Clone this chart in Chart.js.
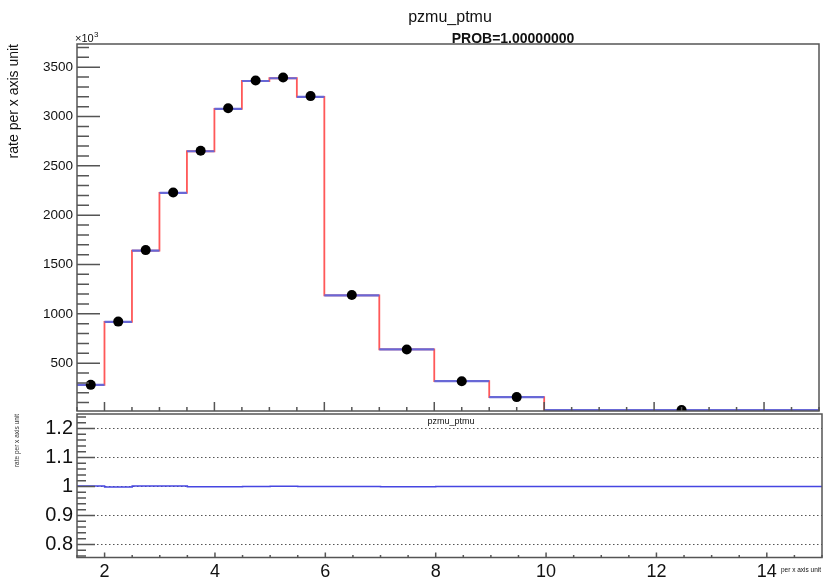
<!DOCTYPE html>
<html>
<head>
<meta charset="utf-8">
<script src="https://cdn.jsdelivr.net/npm/chart.js@4.4.1/dist/chart.umd.min.js"></script>
<style>
  html, body { margin: 0; padding: 0; background: #fff; width: 824px; height: 577px; overflow: hidden; }
  canvas { position: absolute; left: 0; }
  #main { top: 0; }
  #ratio { top: 400px; }
</style>
</head>
<body>
<canvas id="main" width="824" height="416"></canvas>
<canvas id="ratio" width="824" height="190"></canvas>
<script>
// bin edges of the pzmu_ptmu histogram
const binEdges = [1.5, 2, 2.5, 3, 3.5, 4, 4.5, 5, 5.5, 6, 7, 8, 9, 10, 15];
// expected rate (red/blue histogram), x10^3
const histVals = [280, 918, 1640, 2225, 2648, 3078, 3360, 3388, 3200, 1188, 639, 317, 156, 25];
// measured points
const dataVals = [280, 921, 1646, 2230, 2653, 3083, 3365, 3395, 3207, 1190, 639, 317, 156, 25];
// ratio panel
const ratioVals = [1.002, 0.998, 1.002, 1.002, 0.999, 0.999, 1.0, 1.001, 1.0, 1.0, 0.999, 1.0, 1.0, 1.0];

const yTicks = [500, 1000, 1500, 2000, 2500, 3000, 3500];
const ratioTicks = [0.8, 0.9, 1, 1.1, 1.2];
const xTicks = [2, 4, 6, 8, 10, 12, 14];

const FONT = "'Liberation Sans', Arial, Helvetica, sans-serif";
const RED = 'rgb(255,88,88)';
const BLUE = 'rgb(104,104,214)';

// red outline: stepped through all bin edges
const redStep = binEdges.slice(0, -1).map((e, i) => ({ x: e, y: histVals[i] }));
redStep.push({ x: binEdges[binEdges.length - 1], y: histVals[histVals.length - 1] });

// blue: horizontal bin tops only
const blueTops = [];
histVals.forEach((v, i) => {
  blueTops.push({ x: binEdges[i], y: v }, { x: binEdges[i + 1], y: v }, { x: binEdges[i + 1], y: null });
});

const dataPts = dataVals.map((v, i) => ({ x: (binEdges[i] + binEdges[i + 1]) / 2, y: v }));

const ratioStep = binEdges.slice(0, -1).map((e, i) => ({ x: e, y: ratioVals[i] }));
ratioStep.push({ x: binEdges[binEdges.length - 1], y: ratioVals[ratioVals.length - 1] });

// ROOT style frame, inside ticks and loose text
const rootFrame = {
  id: 'rootFrame',
  afterDraw(chart, args, o) {
    const { ctx, chartArea: a, scales } = chart;
    const x = scales.x, y = scales.y;
    ctx.save();
    ctx.strokeStyle = '#555';
    ctx.lineWidth = 1.5;
    ctx.strokeRect(a.left, a.top, a.right - a.left, a.bottom - a.top);

    const drawTicks = (scale, t, horiz) => {
      const i0 = Math.ceil(scale.min / t.minor - 1e-9), i1 = Math.floor(scale.max / t.minor + 1e-9);
      ctx.beginPath();
      for (let i = i0; i <= i1; i++) {
        const v = i * t.minor;
        const r = v / t.major;
        const len = Math.abs(r - Math.round(r)) < 1e-6 ? t.majorLen : t.minorLen;
        const p = scale.getPixelForValue(v);
        if (horiz) { ctx.moveTo(p, a.bottom); ctx.lineTo(p, a.bottom - len); }
        else { ctx.moveTo(a.left, p); ctx.lineTo(a.left + len, p); }
      }
      ctx.stroke();
    };
    drawTicks(y, o.yt, false);
    drawTicks(x, o.xt, true);

    ctx.fillStyle = '#111';
    (o.texts || []).forEach(t => {
      ctx.font = t.font;
      ctx.textAlign = t.align || 'left';
      ctx.textBaseline = 'alphabetic';
      ctx.fillText(t.text, t.x, t.y);
    });
    ctx.restore();
  }
};

const fixedTicks = vals => scale => { scale.ticks = vals.map(v => ({ value: v })); };
// fixed y axis width, no label overhang padding
const fixY = s => { s.width = 77; s.paddingTop = 0; s.paddingBottom = 0; };

// move the plot frame to the wanted top/bottom pixel rows
function pinArea(chart, top, bottom) {
  const a = chart.chartArea, p = chart.options.layout.padding;
  p.top += top - a.top;
  p.bottom += a.bottom - bottom;
  chart.update();
}

const mainChart = new Chart(document.getElementById('main'), {
  type: 'line',
  data: {
    // first dataset is painted on top
    datasets: [
      { data: dataPts, showLine: false, pointRadius: 5, pointBackgroundColor: '#000', pointBorderColor: '#000', pointBorderWidth: 0, clip: 0 },
      { data: blueTops, spanGaps: false, borderColor: BLUE, borderWidth: 2.2, pointRadius: 0, fill: false },
      { data: redStep, stepped: 'before', borderColor: RED, borderWidth: 1.8, pointRadius: 0, fill: false }
    ]
  },
  options: {
    responsive: false,
    animation: false,
    events: [],
    layout: { padding: { top: 44, left: 0, right: 2, bottom: 2 } },
    plugins: {
      legend: { display: false },
      tooltip: { enabled: false },
      rootFrame: {
        yt: { major: 500, minor: 100, majorLen: 23, minorLen: 12 },
        xt: { major: 2, minor: 0.5, majorLen: 9, minorLen: 4 },
        texts: [
          { text: 'pzmu_ptmu', x: 450, y: 22, font: '16px ' + FONT, align: 'center' },
          { text: 'PROB=1.00000000', x: 513, y: 43, font: 'bold 14px ' + FONT, align: 'center' },
          { text: '\u00d710', x: 75, y: 42, font: '11px ' + FONT },
          { text: '3', x: 94, y: 37, font: '8px ' + FONT }
        ]
      }
    },
    scales: {
      x: { type: 'linear', min: 1.5, max: 15, display: false },
      y: {
        type: 'linear', min: 15, max: 3735,
        afterBuildTicks: fixedTicks(yTicks),
        afterFit: fixY,
        grid: { display: false, drawTicks: false },
        border: { display: false },
        ticks: { padding: 4, color: '#111', font: { family: FONT, size: 13.5 }, callback: v => String(v) },
        title: { display: true, text: 'rate per x axis unit', align: 'end', color: '#111',
                 font: { family: FONT, size: 14 }, padding: { top: 5.6, bottom: 0 } }
      }
    }
  },
  plugins: [rootFrame]
});
pinArea(mainChart, 44, 414);

const ratioChart = new Chart(document.getElementById('ratio'), {
  type: 'line',
  data: {
    datasets: [
      { data: ratioStep, stepped: 'before', borderColor: 'rgb(70,70,225)', borderWidth: 1.5, pointRadius: 0, fill: false }
    ]
  },
  options: {
    responsive: false,
    animation: false,
    events: [],
    layout: { padding: { top: 14, left: 0, right: 2, bottom: 0 } },
    plugins: {
      legend: { display: false },
      tooltip: { enabled: false },
      rootFrame: {
        yt: { major: 0.1, minor: 0.02, majorLen: 18, minorLen: 9 },
        xt: { major: 2, minor: 0.5, majorLen: 5, minorLen: 2.5 },
        texts: [
          { text: 'pzmu_ptmu', x: 451, y: 24, font: '9px ' + FONT, align: 'center' },
          { text: 'per x axis unit', x: 781, y: 172, font: '6.5px ' + FONT, align: 'left' }
        ]
      }
    },
    scales: {
      x: {
        type: 'linear', min: 1.5, max: 15,
        afterBuildTicks: fixedTicks(xTicks),
        afterFit: s => { s.height = 32.5; },
        grid: { display: false, drawTicks: false },
        border: { display: false },
        ticks: { padding: 4, color: '#111', maxRotation: 0, font: { family: FONT, size: 18 }, callback: v => String(v) }
      },
      y: {
        type: 'linear', min: 0.755, max: 1.25,
        afterBuildTicks: fixedTicks(ratioTicks),
        afterFit: fixY,
        grid: { display: true, drawTicks: false, color: '#555', lineWidth: 1 },
        border: { display: false, dash: [1.5, 2.5] },
        ticks: { padding: 4, color: '#111', font: { family: FONT, size: 20 }, callback: v => String(v) },
        title: { display: true, text: 'rate per x axis unit', align: 'end', color: '#333',
                 font: { family: FONT, size: 6.5 }, padding: { top: 13, bottom: 0 } }
      }
    }
  },
  plugins: [rootFrame]
});
pinArea(ratioChart, 14, 157.5);
</script>
</body>
</html>
